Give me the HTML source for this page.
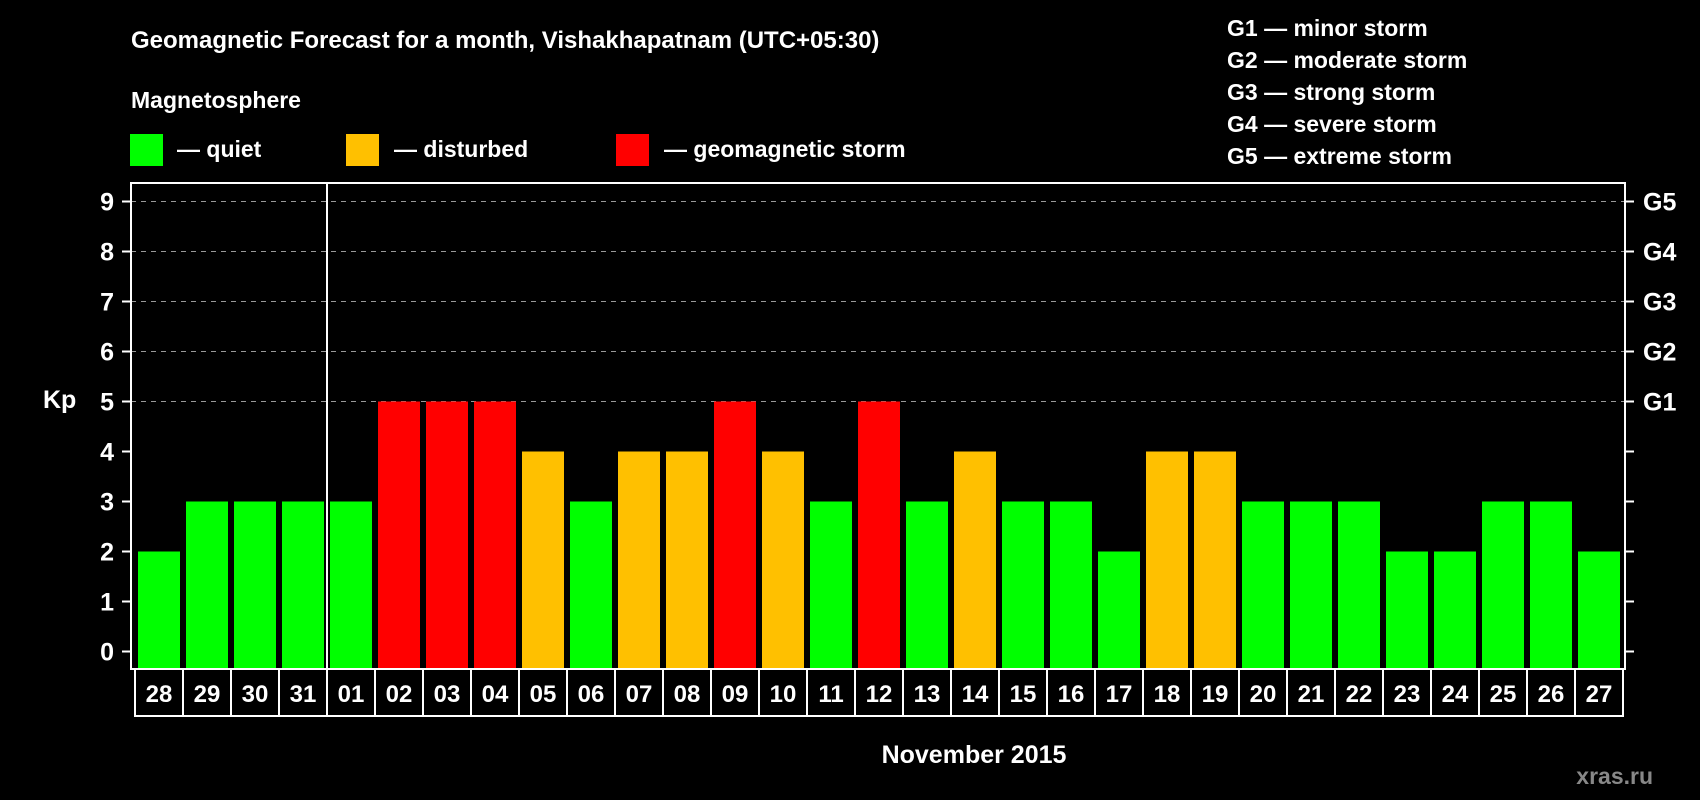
<!DOCTYPE html>
<html><head><meta charset="utf-8"><style>
html,body{margin:0;padding:0;background:#000;width:1700px;height:800px;overflow:hidden}
svg{display:block;font-family:"Liberation Sans",sans-serif;font-weight:bold}
</style></head><body>
<svg id="chart" width="1700" height="800" viewBox="0 0 1700 800" xmlns="http://www.w3.org/2000/svg">
<rect width="1700" height="800" fill="#000"/>
<text x="131" y="48" fill="#fff" font-size="24">Geomagnetic Forecast for a month, Vishakhapatnam (UTC+05:30)</text>
<text x="131" y="108" fill="#fff" font-size="23">Magnetosphere</text>
<g><rect x="130" y="134" width="33" height="32" fill="#00ff00"/><text x="177" y="157" fill="#fff" font-size="23">— quiet</text></g>
<g><rect x="346" y="134" width="33" height="32" fill="#ffc000"/><text x="394" y="157" fill="#fff" font-size="23">— disturbed</text></g>
<g><rect x="616" y="134" width="33" height="32" fill="#ff0000"/><text x="664" y="157" fill="#fff" font-size="23">— geomagnetic storm</text></g>
<g fill="#fff" font-size="23">
<text x="1227" y="36">G1 — minor storm</text>
<text x="1227" y="68">G2 — moderate storm</text>
<text x="1227" y="100">G3 — strong storm</text>
<text x="1227" y="132">G4 — severe storm</text>
<text x="1227" y="164">G5 — extreme storm</text>
</g>
<text x="43" y="408" fill="#fff" font-size="25">Kp</text>
<text x="974" y="763" fill="#fff" font-size="25" text-anchor="middle">November 2015</text>
<text x="1653" y="784" fill="#888" font-size="23" text-anchor="end">xras.ru</text>
<g id="grid"></g>
<g id="bars"></g>
<g id="axes"></g>
</svg>
<script>
const days=["28","29","30","31","01","02","03","04","05","06","07","08","09","10","11","12","13","14","15","16","17","18","19","20","21","22","23","24","25","26","27"];
const kp=[2,3,3,3,3,5,5,5,4,3,4,4,5,4,3,5,3,4,3,3,2,4,4,3,3,3,2,2,3,3,2];
const yTicks=[0,1,2,3,4,5,6,7,8,9];
const gLabels=["G1","G2","G3","G4","G5"];
const NS="http://www.w3.org/2000/svg";
const L=131,R=1625,T=183,B=669,cell0=135,pitch=48;
const y=v=>651.5-v*50;
const x=i=>cell0+i*pitch;
function mk(tag,attrs,parent){const e=document.createElementNS(NS,tag);for(const k in attrs)e.setAttribute(k,attrs[k]);parent.appendChild(e);return e;}
const grid=document.getElementById('grid'),bars=document.getElementById('bars'),axes=document.getElementById('axes');
yTicks.forEach(v=>{
  if(v>=5){const g=mk('line',{x1:L,x2:R,y1:y(v),y2:y(v),stroke:'#999','stroke-dasharray':'5,5','stroke-width':1},grid);
  
  }
  const t=mk('line',{x1:L-9,x2:L,y1:y(v),y2:y(v),stroke:'#fff','stroke-width':2},axes);
  
  
  const t2=mk('line',{x1:R,x2:R+9,y1:y(v),y2:y(v),stroke:'#fff','stroke-width':2},axes);
  
  
  const lb=mk('text',{x:114,y:y(v)+9,fill:'#fff','font-size':25,'text-anchor':'end'},axes);lb.textContent=v;
  
  
});
gLabels.forEach((g,i)=>{const t=mk('text',{x:1643,y:y(5+i)+9,fill:'#fff','font-size':25},axes);t.textContent=g;
  
  });
kp.forEach((v,i)=>{
  const col=v>=5?'#ff0000':v>=4?'#ffc000':'#00ff00';
  const b=mk('rect',{x:x(i)+3,y:y(v),width:42,height:B-1-y(v),fill:col},bars);
  
  
  const c=mk('rect',{x:x(i),y:B,width:pitch,height:47,fill:'none',stroke:'#fff','stroke-width':2},axes);
  
  
  const t=mk('text',{x:x(i)+pitch/2,y:B+33,fill:'#fff','font-size':24,'text-anchor':'middle'},axes);t.textContent=days[i];
  
  
});
const fr=mk('rect',{x:L,y:T,width:R-L,height:B-T,fill:'none',stroke:'#fff','stroke-width':2},axes);


const sep=mk('line',{x1:x(4),x2:x(4),y1:T,y2:B,stroke:'#fff','stroke-width':2},axes);


</script>
</body></html>
